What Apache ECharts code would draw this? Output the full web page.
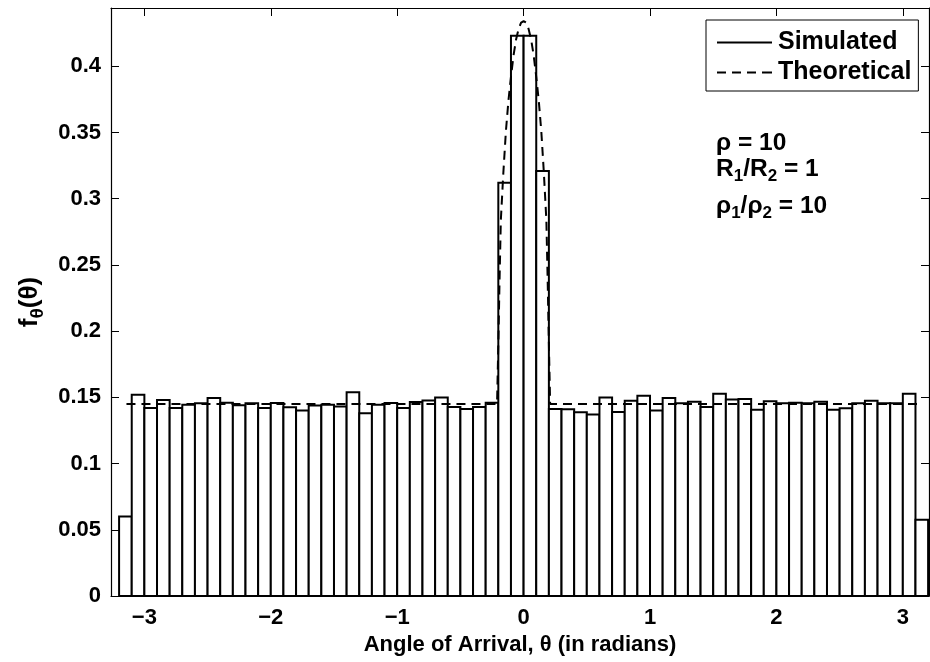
<!DOCTYPE html>
<html>
<head>
<meta charset="utf-8">
<script src="https://cdn.jsdelivr.net/npm/echarts@6/dist/echarts.min.js"></script>
<style>
  html, body { margin: 0; padding: 0; background: #ffffff; }
  #chart { width: 930px; height: 662px; }
</style>
</head>
<body>
<div id="chart"></div>
<script>
// Histogram of the simulated angle of arrival: 64 bins, 0.1 rad wide, starting at -3.2 rad
const binLeftEdge = -3.2;
const binWidth = 0.1;
const simulatedDensity = [
  0.060, 0.152, 0.142, 0.148, 0.142, 0.1445, 0.1455, 0.1495,
  0.146, 0.144, 0.1455, 0.142, 0.1457, 0.1425, 0.140, 0.1438,
  0.1445, 0.143, 0.1538, 0.138, 0.1445, 0.1458, 0.142, 0.1465,
  0.1477, 0.1498, 0.1427, 0.1412, 0.1427, 0.146, 0.312, 0.423,
  0.423, 0.321, 0.1412, 0.141, 0.1387, 0.137, 0.1498, 0.139,
  0.1475, 0.1513, 0.140, 0.1495, 0.1455, 0.1467, 0.1427, 0.1528,
  0.1483, 0.1488, 0.1407, 0.147, 0.1455, 0.146, 0.1456, 0.1467,
  0.1407, 0.1417, 0.1456, 0.1475, 0.1456, 0.1456, 0.1528, 0.0576
];

// Theoretical pdf f_theta(theta)
const theoryTheta = [
  -3.1416, -0.21, -0.2, -0.19, -0.18, -0.16, -0.14, -0.12, -0.1, -0.08, -0.06, -0.04, -0.02, 0,
  0.02, 0.04, 0.06, 0.08, 0.1, 0.12, 0.14, 0.16, 0.18, 0.19, 0.2, 0.21, 3.1416
];
const theoryDensity = [
  0.145, 0.145, 0.19, 0.24, 0.284, 0.32, 0.351, 0.374, 0.392, 0.408, 0.420, 0.428, 0.433, 0.434,
  0.433, 0.428, 0.420, 0.408, 0.392, 0.374, 0.351, 0.32, 0.284, 0.24, 0.19, 0.145, 0.145
];

const xTickValues = [-3, -2, -1, 0, 1, 2, 3];
const yTickValues = [0, 0.05, 0.1, 0.15, 0.2, 0.25, 0.3, 0.35, 0.4];

const FONT = 'Liberation Sans, Arial, Helvetica, sans-serif';
const INK = '#000000';

// [left edge, right edge, density] for each histogram bin
const histData = simulatedDensity.map((v, i) => {
  const x0 = +(binLeftEdge + i * binWidth).toFixed(4);
  return [x0, +(x0 + binWidth).toFixed(4), v];
});
const theoryData = theoryTheta.map((t, i) => [t, theoryDensity[i]]);

const xMin = -3.264, xMax = 3.207;
const yMin = 0, yMax = 0.444;

const minusFmt = v => (v < 0 ? '\u2212' + Math.abs(v) : String(v));

const frameTick = { show: true, inside: true, length: 8, lineStyle: { color: INK, width: 1 } };
const frameLine = { show: true, onZero: false, lineStyle: { color: INK, width: 1.2 } };
const labelText = { color: INK, fontFamily: FONT, fontWeight: 'bold', fontSize: 22 };

const chart = echarts.init(document.getElementById('chart'), null, { renderer: 'canvas' });

chart.setOption({
  backgroundColor: '#ffffff',
  animation: false,
  grid: { left: 111, top: 8, width: 818, height: 588, containLabel: false },
  xAxis: [
    {
      type: 'value', min: xMin, max: xMax, position: 'bottom',
      axisLine: frameLine,
      axisTick: Object.assign({ customValues: xTickValues }, frameTick),
      axisLabel: Object.assign({ customValues: xTickValues, formatter: minusFmt, margin: 11 }, labelText),
      splitLine: { show: false },
      name: 'Angle of Arrival, \u03b8 (in radians)',
      nameLocation: 'middle', nameGap: 33,
      nameTextStyle: { color: INK, fontFamily: FONT, fontWeight: 'bold', fontSize: 22 }
    },
    {
      type: 'value', min: xMin, max: xMax, position: 'top',
      axisLine: frameLine,
      axisTick: Object.assign({ customValues: xTickValues }, frameTick),
      axisLabel: { show: false },
      splitLine: { show: false }
    }
  ],
  yAxis: [
    {
      type: 'value', min: yMin, max: yMax, position: 'left',
      axisLine: frameLine,
      axisTick: Object.assign({ customValues: yTickValues }, frameTick),
      axisLabel: Object.assign({ customValues: yTickValues, formatter: v => String(v), margin: 10 }, labelText),
      splitLine: { show: false },
      name: '{m|f}{s|\u03b8}{m|(\u03b8)}',
      nameLocation: 'middle', nameRotate: 90, nameGap: 64,
      nameTextStyle: {
        color: INK, fontFamily: FONT, fontWeight: 'bold', fontSize: 26,
        rich: {
          m: { fontFamily: FONT, fontWeight: 'bold', fontSize: 26, color: INK },
          s: { fontFamily: FONT, fontWeight: 'bold', fontSize: 19, color: INK, padding: [15, 0, 0, 0] }
        }
      }
    },
    {
      type: 'value', min: yMin, max: yMax, position: 'right',
      axisLine: frameLine,
      axisTick: Object.assign({ customValues: yTickValues }, frameTick),
      axisLabel: { show: false },
      splitLine: { show: false }
    }
  ],
  legend: {
    orient: 'vertical',
    left: 706, top: 20,
    backgroundColor: '#ffffff',
    borderColor: INK, borderWidth: 1, borderRadius: 0,
    padding: [10, 7, 6, 11],
    itemGap: 5,
    itemWidth: 55, itemHeight: 2,
    textStyle: { color: INK, fontFamily: FONT, fontWeight: 'bold', fontSize: 25, padding: [0, 0, 0, 1] },
    selectedMode: false,
    data: [
      { name: 'Simulated', icon: 'path://M0,0H55V2H0Z', itemStyle: { color: INK, borderWidth: 0 } },
      { name: 'Theoretical', icon: 'path://M0,0H9V2H0Z M15,0H24V2H15Z M30,0H39V2H30Z M45,0H55V2H45Z', itemStyle: { color: INK, borderWidth: 0 } }
    ]
  },
  graphic: [
    {
      type: 'text', left: 716, top: 131, z: 10,
      style: { text: '\u03c1 = 10', fill: INK, font: 'bold 24.5px ' + FONT }
    },
    {
      type: 'text', left: 716, top: 157, z: 10,
      style: {
        text: 'R{s|1}/R{s|2} = 1', fill: INK, font: 'bold 24.5px ' + FONT,
        rich: { s: { fontFamily: FONT, fontWeight: 'bold', fontSize: 17, fill: INK, padding: [14, 0, 0, 0] } }
      }
    },
    {
      type: 'text', left: 716, top: 194, z: 10,
      style: {
        text: '\u03c1{s|1}/\u03c1{s|2} = 10', fill: INK, font: 'bold 24.5px ' + FONT,
        rich: { s: { fontFamily: FONT, fontWeight: 'bold', fontSize: 17, fill: INK, padding: [14, 0, 0, 0] } }
      }
    }
  ],
  series: [
    {
      name: 'Simulated',
      type: 'custom',
      xAxisIndex: 0, yAxisIndex: 0,
      itemStyle: { color: INK },
      encode: { x: [0, 1], y: 2 },
      data: histData,
      z: 2,
      renderItem: function (params, api) {
        const topLeft = api.coord([api.value(0), api.value(2)]);
        const bottomRight = api.coord([api.value(1), 0]);
        return {
          type: 'rect',
          shape: {
            x: topLeft[0], y: topLeft[1],
            width: bottomRight[0] - topLeft[0],
            height: bottomRight[1] - topLeft[1]
          },
          style: { fill: '#ffffff', stroke: INK, lineWidth: 2 }
        };
      }
    },
    {
      name: 'Theoretical',
      type: 'line',
      xAxisIndex: 0, yAxisIndex: 0,
      data: theoryData,
      showSymbol: false,
      symbol: 'none',
      itemStyle: { color: INK },
      lineStyle: { color: INK, width: 2, type: [9, 6] },
      z: 5
    }
  ]
});
</script>
</body>
</html>
